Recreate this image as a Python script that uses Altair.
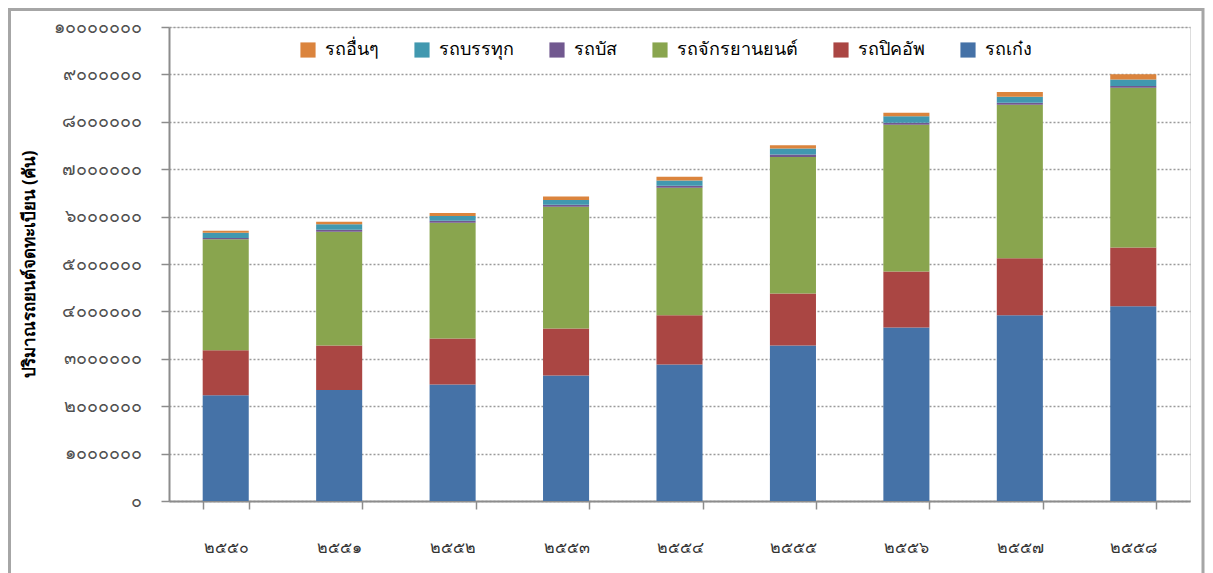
import altair as alt
import pandas as pd

# ---- data ----
years = ["๒๕๕๐", "๒๕๕๑", "๒๕๕๒", "๒๕๕๓", "๒๕๕๔", "๒๕๕๕", "๒๕๕๖", "๒๕๕๗", "๒๕๕๘"]
sedan = [2230000, 2340000, 2460000, 2650000, 2880000, 3280000, 3660000, 3920000, 4110000]
pickup = [950000, 940000, 970000, 990000, 1040000, 1100000, 1180000, 1200000, 1240000]
motorcycle = [2340000, 2400000, 2440000, 2570000, 2690000, 2880000, 3100000, 3240000, 3370000]
bus = [30000, 40000, 40000, 40000, 40000, 50000, 40000, 40000, 35000]
truck = [110000, 120000, 105000, 100000, 110000, 126000, 135000, 130000, 140000]
other = [40000, 50000, 63000, 76000, 80000, 70000, 76000, 100000, 110000]

# stacking order bottom -> top
series_names = ["รถเก๋ง", "รถปิคอัพ", "รถจักรยานยนต์", "รถบัส", "รถบรรทุก", "รถอื่นๆ"]
series_values = [sedan, pickup, motorcycle, bus, truck, other]
series_colors = ["#4572A7", "#AA4643", "#89A54E", "#71588F", "#4198AF", "#DB843D"]

thai_digits = ["๐", "๑", "๒", "๓", "๔", "๕", "๖", "๗", "๘", "๙"]
y_title = "ปริมาณรถยนต์จดทะเบียน (คัน)"

rows = []
for si, (name, vals) in enumerate(zip(series_names, series_values)):
    for yr, v in zip(years, vals):
        rows.append({"year": yr, "type": name, "value": v, "ord": si})
df = pd.DataFrame(rows)

legend_order = series_names[::-1]
legend_colors = series_colors[::-1]

expr = "format(datum.value, 'd')"
for d, t in enumerate(thai_digits):
    expr = f"replace({expr}, regexp('{d}', 'g'), '{t}')"

FONT = "Noto Sans"
W, H = 1021, 474

bars = alt.Chart(df).mark_bar().encode(
    x=alt.X("year:N", sort=years, title=None,
            scale=alt.Scale(paddingInner=0.594, paddingOuter=0.297),
            axis=alt.Axis(labelAngle=0, tickBand="extent", tickSize=8, tickColor="#8c8c8c",
                          tickWidth=1.5, domainColor="#8c8c8c", domainWidth=2,
                          labelPadding=30, labelFontSize=16, labelColor="#333333",
                          labelFont=FONT, grid=False)),
    y=alt.Y("value:Q", stack="zero", title=y_title,
            scale=alt.Scale(domain=[0, 10000000], nice=False),
            axis=alt.Axis(values=list(range(0, 10000001, 1000000)), labelExpr=expr,
                          tickSize=8, tickColor="#8c8c8c", tickWidth=1.5,
                          domainColor="#8c8c8c", domainWidth=2,
                          labelPadding=20, labelFontSize=18, labelColor="#505050", labelFont=FONT,
                          grid=True, gridColor="#9a9a9a", gridDash=[2, 2], gridWidth=1.5,
                          titleFont=FONT, titleFontSize=17, titleFontWeight="bold",
                          titleColor="#000000", titlePadding=15)),
    color=alt.Color("type:N", title=None,
                    scale=alt.Scale(domain=legend_order, range=legend_colors),
                    legend=alt.Legend(orient="none", legendX=130, legendY=14, direction="horizontal",
                                      symbolType="square", symbolSize=230, symbolStrokeWidth=0,
                                      labelFontSize=18, labelFont=FONT, labelColor="#000000",
                                      columnPadding=34, labelOffset=8)),
    order=alt.Order("ord:Q"),
)

border = alt.Chart(pd.DataFrame({"a": [0]})).mark_rect(
    filled=False, stroke="#a6a6a6", strokeWidth=3
).encode(x=alt.value(-159.5), x2=alt.value(1034), y=alt.value(-17.5), y2=alt.value(620))

chart = alt.layer(bars, border).properties(
    width=W, height=H,
    autosize=alt.AutoSizeParams(type="none"),
    padding={"left": 161, "top": 19, "right": 15, "bottom": 72},
).configure_view(stroke="#6b6b6b", strokeWidth=1.5).configure(background="white")

chart.save("out.html", embed_options={"renderer": "svg", "actions": False})
